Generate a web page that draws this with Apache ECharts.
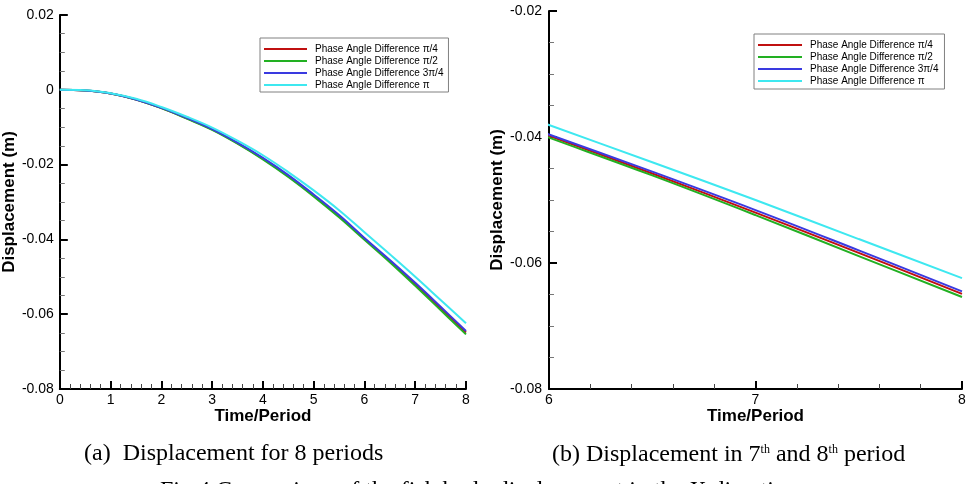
<!DOCTYPE html>
<html>
<head>
<meta charset="utf-8">
<script src="https://cdn.jsdelivr.net/npm/echarts@6/dist/echarts.min.js"></script>
<style>
html, body { margin: 0; padding: 0; background: #fff; }
#chart { width: 972px; height: 484px; }
</style>
</head>
<body>
<div id="chart"></div>
<script>
// time in periods
var timePeriod = [0, 0.5, 1, 1.5, 2, 2.5, 3, 3.5, 4, 4.5, 5, 5.5, 6, 6.5, 7, 7.5, 8];

// displacement (m) per phase angle difference
var dispPi4 = [0, -0.0002, -0.0010, -0.0026, -0.0049, -0.0076, -0.0106, -0.0143, -0.0184, -0.0231, -0.0283, -0.0338, -0.0398, -0.0458, -0.0520, -0.0584, -0.0649];
var dispPi2 = [0, -0.0002, -0.0010, -0.0026, -0.0049, -0.0077, -0.0107, -0.0144, -0.0186, -0.0233, -0.0285, -0.0341, -0.0401, -0.0461, -0.0524, -0.0589, -0.0654];
var disp3Pi4 = [0, -0.0002, -0.0010, -0.0026, -0.0048, -0.0075, -0.0105, -0.0141, -0.0182, -0.0228, -0.0280, -0.0335, -0.0396, -0.0455, -0.0516, -0.0580, -0.0645];
var dispPi = [0, -0.0001, -0.0009, -0.0024, -0.0046, -0.0072, -0.0101, -0.0136, -0.0175, -0.0220, -0.0269, -0.0322, -0.0381, -0.0440, -0.0500, -0.0562, -0.0624];

var seriesNames = ['Phase Angle Difference π/4', 'Phase Angle Difference π/2', 'Phase Angle Difference 3π/4', 'Phase Angle Difference π'];
var seriesColors = ['#c01010', '#22b022', '#3a3ae0', '#3ee8f0'];
var seriesData = [dispPi4, dispPi2, disp3Pi4, dispPi];

var captionA = '(a)  Displacement for 8 periods';
var figTitle = 'Fig.4 Comparison of the fish body displacement in the X direction';

function pairs(vals) {
	return timePeriod.map(function (t, i) { return [t, vals[i]]; });
}

function yLabel(v) {
	if (Math.abs(v) < 1e-9) return '0';
	return v.toFixed(2);
}

var labelFont = 'Liberation Sans';

function xAxisCfg(idx, min, max, minorSplit, margin) {
	return {
		type : 'value',
		gridIndex : idx,
		min : min,
		max : max,
		interval : 1,
		name : 'Time/Period',
		nameLocation : 'middle',
		nameGap : 19,
		nameMoveOverlap : false,
		nameTextStyle : { fontSize : 17, fontWeight : 'bold', color : '#000', fontFamily : labelFont },
		axisLine : { show : true, onZero : false, lineStyle : { color : '#000', width : 2 } },
		axisTick : { show : true, inside : true, length : 8, lineStyle : { color : '#000', width : 2 } },
		minorTick : { show : true, splitNumber : minorSplit, length : 5, lineStyle : { color : '#444', width : 1 } },
		axisLabel : { margin : margin, fontSize : 14, color : '#000', fontFamily : labelFont },
		splitLine : { show : false }
	};
}

function yAxisCfg(idx, min, max, margin) {
	return {
		type : 'value',
		gridIndex : idx,
		min : min,
		max : max,
		interval : 0.02,
		name : 'Displacement (m)',
		nameLocation : 'middle',
		nameGap : 40,
		nameTextStyle : { fontSize : 17, fontWeight : 'bold', color : '#000', fontFamily : labelFont },
		axisLine : { show : true, onZero : false, lineStyle : { color : '#000', width : 2 } },
		axisTick : { show : true, inside : true, length : 8, lineStyle : { color : '#000', width : 2 } },
		minorTick : { show : true, splitNumber : 4, length : 5, lineStyle : { color : '#777', width : 1 } },
		axisLabel : { margin : margin, fontSize : 14, color : '#000', fontFamily : labelFont, formatter : yLabel },
		splitLine : { show : false }
	};
}

var series = [];
[0, 1].forEach(function (g) {
	seriesData.forEach(function (vals, i) {
		series.push({
			name : seriesNames[i],
			type : 'line',
			xAxisIndex : g,
			yAxisIndex : g,
			data : pairs(vals),
			symbol : 'none',
			showSymbol : false,
			smooth : 0.4,
			clip : true,
			lineStyle : { color : seriesColors[i], width : 2 },
			itemStyle : { color : seriesColors[i] }
		});
	});
});

// thin bar icon so the legend shows just a line
var lineIcon = 'path://M0,0H40V2H0Z';

function legendCfg(left, top, itemWidth, pad) {
	return {
		orient : 'vertical',
		left : left,
		top : top,
		data : seriesNames,
		selectedMode : false,
		icon : lineIcon,
		itemWidth : itemWidth,
		itemHeight : 12,
		itemGap : 0,
		padding : pad,
		backgroundColor : '#fff',
		borderColor : '#808080',
		borderWidth : 1,
		textStyle : { fontSize : 10, lineHeight : 12, color : '#000', fontFamily : labelFont, padding : [0, 0, 0, 3] }
	};
}

var chart = echarts.init(document.getElementById('chart'));
chart.setOption({
	animation : false,
	backgroundColor : '#fff',
	grid : [
		{ left : 56, top : 15, width : 410, height : 374 },
		{ left : 549, top : 11, width : 413, height : 378 }
	],
	xAxis : [ xAxisCfg(0, 0, 8, 5, 4), xAxisCfg(1, 6, 8, 5, 4) ],
	yAxis : [ yAxisCfg(0, -0.08, 0.02, 6), yAxisCfg(1, -0.08, -0.02, 7) ],
	legend : [ legendCfg(260, 38, 43, [5, 5, 1, 4]), legendCfg(754, 34, 44, [5, 6, 2, 4]) ],
	series : series,
	graphic : [
		{
			type : 'text',
			left : 84,
			top : 442,
			style : { text : captionA, font : '24px "Liberation Serif"', fill : '#000' }
		},
		{
			type : 'text',
			left : 552,
			top : 443,
			style : {
				text : '(b) Displacement in 7{sup|th} and 8{sup|th} period',
				font : '24px "Liberation Serif"',
				fill : '#000',
				rich : { sup : { fontSize : 12, fontFamily : 'Liberation Serif', padding : [0, 0, 11, 0] } }
			}
		},
		{
			type : 'text',
			left : 160,
			top : 479,
			style : { text : figTitle, font : '24px "Liberation Serif"', fill : '#000' }
		}
	]
});
</script>
</body>
</html>
